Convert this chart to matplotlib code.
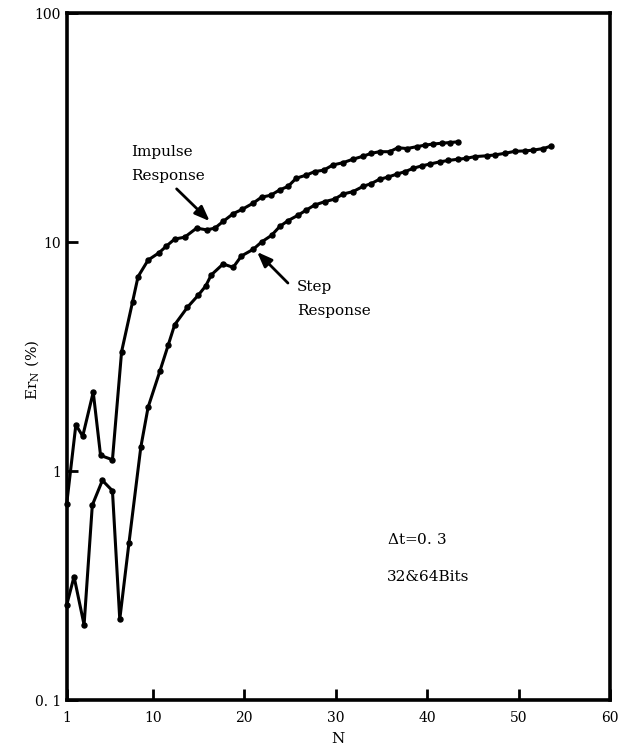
import matplotlib
matplotlib.use("Agg")
import matplotlib.pyplot as plt

# ---- data ----
imp_n = [0.6, 1.6, 2.35, 3.5, 4.3, 5.6, 6.6, 7.8, 8.4, 9.5,
         10.7, 11.5, 12.4, 13.5, 14.8, 15.9, 16.8, 17.7, 18.8, 19.8,
         21.0, 21.9, 22.9, 23.9, 24.8, 25.7, 26.8, 27.7, 28.7, 29.7,
         30.8, 31.9, 33.0, 33.9, 34.8, 35.9, 36.8, 37.8, 38.9, 39.8,
         40.7, 41.6, 42.5, 43.4]
imp_v = [0.72, 1.59, 1.42, 2.21, 1.17, 1.12, 3.32, 5.48, 7.06, 8.34,
         8.98, 9.6, 10.3, 10.5, 11.5, 11.3, 11.5, 12.3, 13.3, 13.9,
         14.8, 15.7, 16.0, 16.9, 17.5, 19.0, 19.6, 20.3, 20.6, 21.7,
         22.2, 23.0, 23.7, 24.4, 24.8, 24.8, 25.8, 25.6, 26.1, 26.5,
         26.8, 27.0, 27.2, 27.4]

step_n = [0.6, 1.4, 2.5, 3.4, 4.5, 5.6, 6.4, 7.4, 8.7, 9.5,
          10.8, 11.7, 12.4, 13.8, 15.0, 15.8, 16.4, 17.7, 18.8, 19.7,
          21.0, 21.9, 23.0, 23.9, 24.8, 25.9, 26.8, 27.7, 28.8, 29.9,
          30.8, 31.9, 33.0, 33.9, 34.8, 35.7, 36.7, 37.6, 38.5, 39.4,
          40.3, 41.4, 42.3, 43.4, 44.3, 45.2, 46.5, 47.4, 48.5,
          49.6, 50.7, 51.6, 52.7, 53.5]
step_v = [0.26, 0.346, 0.213, 0.71, 0.91, 0.82, 0.225, 0.483, 1.27, 1.90,
          2.74, 3.55, 4.35, 5.19, 5.87, 6.43, 7.18, 8.02, 7.75, 8.69,
          9.3, 10.0, 10.7, 11.7, 12.4, 13.1, 13.8, 14.5, 15.0, 15.4,
          16.2, 16.6, 17.5, 18.0, 18.8, 19.2, 19.8, 20.3, 21.0, 21.5,
          21.9, 22.4, 22.7, 23.0, 23.2, 23.6, 23.8, 24.0, 24.4,
          24.9, 25.0, 25.2, 25.6, 26.2]

x_ticks = [0.6, 10, 20, 30, 40, 50, 60]
x_tick_labels = ["1", "10", "20", "30", "40", "50", "60"]
y_ticks = [0.1, 1, 10, 100]
y_tick_labels = ["0. 1", "1", "10", "100"]

plt.rcParams['font.family'] = ['DejaVu Serif']
plt.rcParams['mathtext.fontset'] = 'dejavuserif'

fig = plt.figure(figsize=(6.2, 7.49), dpi=100)
ax = fig.add_axes([0.1076, 0.0654, 0.9839 - 0.1076, 0.9826 - 0.0654])

line_kw = dict(color='black', lw=2.2, marker='o', ms=3.6, clip_on=False)
ax.plot(imp_n, imp_v, **line_kw)
ax.plot(step_n, step_v, **line_kw)

ax.set_yscale('log')
ax.set_xlim(0.6, 60)
ax.set_ylim(0.1, 100)
ax.set_xticks(x_ticks)
ax.set_xticklabels(x_tick_labels)
ax.set_yticks(y_ticks)
ax.set_yticklabels(y_tick_labels)
ax.minorticks_off()
ax.tick_params(direction='in', length=8, width=2, labelsize=10)
ax.tick_params(axis='x', pad=8)
ax.tick_params(axis='y', pad=4)

for s in ax.spines.values():
    s.set_linewidth(2.6)

ax.set_xlabel("N", fontsize=11, labelpad=5)
ax.set_ylabel(r"Er$_{\mathrm{N}}$ (%)", fontsize=11)
ax.yaxis.set_label_coords(-0.047, 0.48)

# annotations
fs = 11
ax.text(7.6, 24.7, "Impulse", fontsize=fs, ha='left', va='center')
ax.text(7.6, 19.4, "Response", fontsize=fs, ha='left', va='center')
ax.annotate("", xy=(16.45, 12.1), xytext=(12.4, 17.4),
            arrowprops=dict(arrowstyle='-|>,head_length=0.9,head_width=0.35',
                            color='black', lw=2))

ax.text(25.8, 6.35, "Step", fontsize=fs, ha='left', va='center')
ax.text(25.8, 5.0, "Response", fontsize=fs, ha='left', va='center')
ax.annotate("", xy=(21.2, 9.23), xytext=(25.0, 6.49),
            arrowprops=dict(arrowstyle='-|>,head_length=0.9,head_width=0.35',
                            color='black', lw=2))

ax.text(35.6, 0.50, r"$\it{\Delta}$t=0. 3", fontsize=fs, ha='left', va='center')
ax.text(35.6, 0.344, "32&64Bits", fontsize=fs, ha='left', va='center')

fig.savefig("out.png", dpi=100)
